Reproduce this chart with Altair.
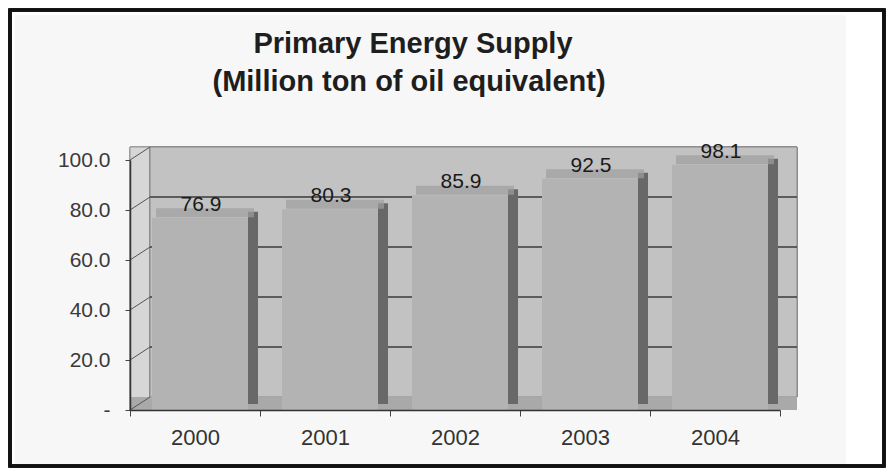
import altair as alt
import pandas as pd

# ---- data ----
YEARS = ["2000", "2001", "2002", "2003", "2004"]
SUPPLY = [76.9, 80.3, 85.9, 92.5, 98.1]
Y_TICKS = [0, 20, 40, 60, 80, 100]
WALL_GRID = [20, 40, 60, 80]
TITLE_LINES = ["Primary Energy Supply", "(Million ton of oil equivalent)"]

df = pd.DataFrame({"year": YEARS, "supply": SUPPLY})
grid_df = pd.DataFrame({"v": WALL_GRID})
tick_df = pd.DataFrame({"v": Y_TICKS})

W, H = 650, 250
DEPTH_X, DEPTH_Y = 20, 13
FONT = "Liberation Sans"

xscale = alt.Scale(domain=YEARS, paddingInner=0, paddingOuter=0)
yscale = alt.Scale(domain=[0, 100], nice=False, zero=True)

x_enc = alt.X(
    "year:N", scale=xscale, title=None,
    axis=alt.Axis(labelAngle=0, labelFontSize=22, labelColor="#333", labelFont=FONT,
                  tickBand="extent", tickSize=6, tickColor="#444", domainColor="#333",
                  domainWidth=1.5, labelPadding=11, zindex=2),
)
y_enc = alt.Y(
    "supply:Q", scale=yscale, title=None,
    axis=alt.Axis(values=Y_TICKS, labelExpr="datum.value == 0 ? '-' : format(datum.value, '.1f')",
                  labelFontSize=21, labelColor="#3a3a3a", labelFont=FONT, tickSize=5,
                  tickColor="#444", domainColor="#333", domainWidth=1.5, grid=False,
                  labelPadding=15, zindex=2),
)

base = alt.Chart(df)

# light panel and black frame (decoration)
panel = base.mark_rect(color="#f7f7f7").encode(
    x=alt.value(-115), x2=alt.value(716), y=alt.value(-145), y2=alt.value(305)
)
frame = base.mark_rect(fillOpacity=0, stroke="#111", strokeWidth=3).encode(
    x=alt.value(-120), x2=alt.value(754), y=alt.value(-150), y2=alt.value(306)
)

# title as two text lines
title_df = pd.DataFrame({"line": TITLE_LINES, "idx": [0, 1]})
title1 = alt.Chart(title_df).transform_filter("datum.idx == 0").mark_text(
    font=FONT, fontSize=29, fontWeight="bold", color="#1e1e1e", baseline="middle"
).encode(text="line:N", x=alt.value(283), y=alt.value(-116))
title2 = alt.Chart(title_df).transform_filter("datum.idx == 1").mark_text(
    font=FONT, fontSize=29, fontWeight="bold", color="#1e1e1e", baseline="middle"
).encode(text="line:N", x=alt.value(279), y=alt.value(-78))

# walls
left_wall = base.mark_rect(color="#d6d6d6", stroke="#9a9a9a", strokeWidth=1).encode(
    x=alt.value(0), x2=alt.value(DEPTH_X),
    y=alt.datum(100 + DEPTH_Y / 2.5, scale=yscale), y2=alt.datum(0),
)
back_wall = base.mark_rect(color="#c2c2c2", stroke="#8a8a8a", strokeWidth=1,
                           yOffset=-DEPTH_Y, y2Offset=-DEPTH_Y).encode(
    x=alt.value(DEPTH_X), x2=alt.value(W + DEPTH_X - 3),
    y=alt.datum(100, scale=yscale), y2=alt.datum(0),
)
floor = base.mark_rect(color="#a9a9a9", y2Offset=-DEPTH_Y).encode(
    x=alt.value(0), x2=alt.value(W + DEPTH_X - 3),
    y=alt.datum(0, scale=yscale), y2=alt.datum(0),
)
wall_grid = alt.Chart(grid_df).mark_rule(color="#3a3a3a", strokeWidth=1.5,
                                         yOffset=-DEPTH_Y).encode(
    y=alt.Y("v:Q", scale=yscale), x=alt.value(DEPTH_X), x2=alt.value(W + DEPTH_X - 3),
)
diag = alt.Chart(tick_df).mark_rule(color="#555", strokeWidth=1, y2Offset=-DEPTH_Y).encode(
    y=alt.Y("v:Q", scale=yscale), y2="v:Q", x=alt.value(0), x2=alt.value(DEPTH_X),
)

# bars (3D look)
side = base.mark_bar(size=10, xOffset=58, yOffset=-6, color="#686868").encode(x=x_enc, y=y_enc)
top = base.mark_tick(thickness=9, size=98, xOffset=10, yOffset=-5, color="#9e9e9e").encode(
    x=x_enc, y=y_enc)
front = base.mark_bar(size=96, xOffset=5, color="#b3b3b3").encode(x=x_enc, y=y_enc)
labels = base.mark_text(dx=6, dy=-13, fontSize=21, color="#1a1a1a", font=FONT,
                        baseline="middle").encode(
    x=x_enc, y=y_enc, text=alt.Text("supply:Q", format=".1f"))

chart = alt.layer(
    panel, frame, title1, title2, left_wall, back_wall, floor, wall_grid, diag,
    side, top, front, labels
).properties(
    width=W, height=H,
    autosize="none",
    padding={"left": 122, "top": 152, "right": 106, "bottom": 58},
    background="white",
).configure_view(stroke=None)

chart.save("out.html", embed_options={"renderer": "svg", "actions": False})
